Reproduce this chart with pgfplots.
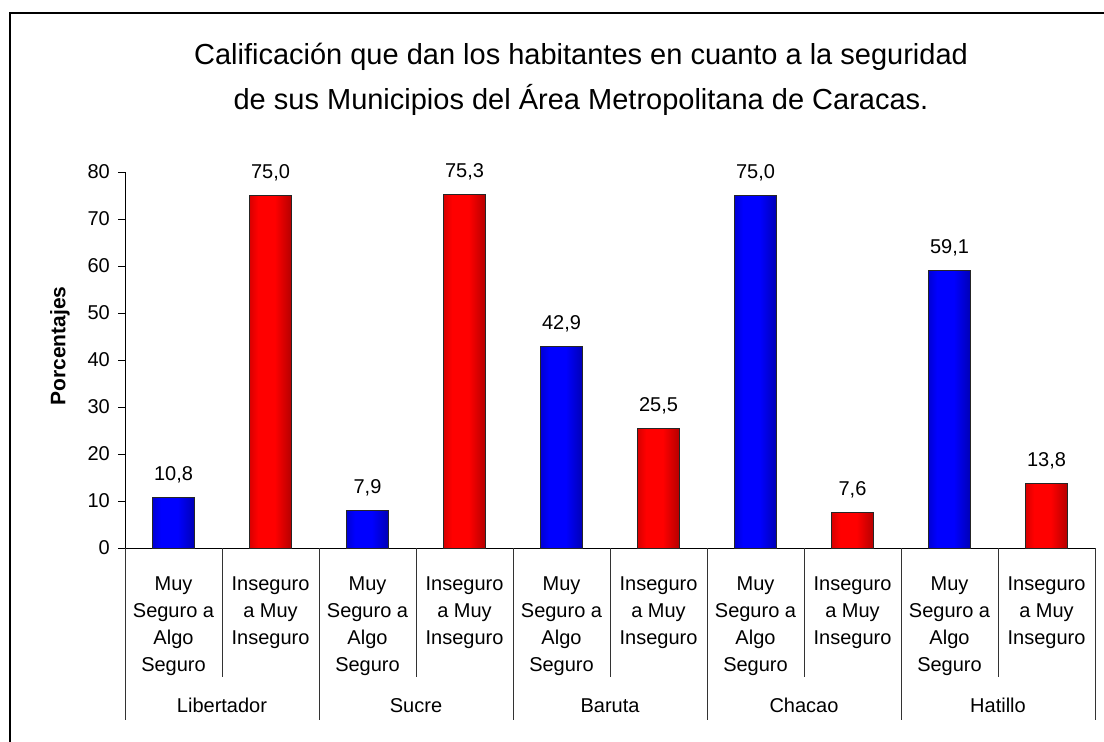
\documentclass[border=0pt]{standalone}
\usepackage{pgfplots}
\pgfplotsset{compat=1.18}
\usepackage{fontspec}
\setmainfont{Liberation Sans}
\definecolor{bL}{RGB}{0,0,110}
\definecolor{bM}{RGB}{0,0,255}
\definecolor{bR}{RGB}{0,0,90}
\definecolor{rL}{RGB}{120,0,0}
\definecolor{rM}{RGB}{255,0,0}
\definecolor{rR}{RGB}{90,0,0}
\pgfdeclarehorizontalshading{blueshade}{100bp}{color(0bp)=(bL); color(35bp)=(bM); color(55bp)=(bM); color(100bp)=(bR)}
\pgfdeclarehorizontalshading{redshade}{100bp}{color(0bp)=(rL); color(35bp)=(rM); color(55bp)=(rM); color(100bp)=(rR)}
\newcommand{\lbl}{\fontsize{20bp}{27bp}\selectfont}
\begin{document}
\begin{tikzpicture}
\path[use as bounding box] (0,0) rectangle (1104bp,742bp);
\draw[line width=2.5bp] (10bp,-5bp) -- (10bp,729bp) -- (1110bp,729bp);
\node[anchor=base, font=\fontsize{29bp}{34bp}\selectfont] at (581bp,677bp) {Calificación que dan los habitantes en cuanto a la seguridad};
\node[anchor=base, font=\fontsize{29bp}{34bp}\selectfont] at (581bp,632bp) {de sus Municipios del Área Metropolitana de Caracas.};
\node[rotate=90, font=\fontsize{21bp}{27bp}\selectfont\bfseries] at (60bp,396bp) {Porcentajes};
\begin{axis}[
  at={(125bp,194bp)}, anchor=south west,
  scale only axis, width=970bp, height=376bp,
  xmin=-0.5, xmax=9.5, ymin=0, ymax=80,
  axis x line*=bottom, axis y line*=left,
  axis line style={line width=0.8bp, -},
  clip=false,
  ybar, bar shift=0pt, bar width=0.43,
  ytick={0,10,...,80},
  tick align=outside,
  ytick style={line width=0.8bp, black},
  major tick length=7bp,
  xtick={0,...,9},
  xtick style={draw=none},
  xticklabels={{Muy\\Seguro a\\Algo\\Seguro},{Inseguro\\a Muy\\Inseguro},{Muy\\Seguro a\\Algo\\Seguro},{Inseguro\\a Muy\\Inseguro},{Muy\\Seguro a\\Algo\\Seguro},{Inseguro\\a Muy\\Inseguro},{Muy\\Seguro a\\Algo\\Seguro},{Inseguro\\a Muy\\Inseguro},{Muy\\Seguro a\\Algo\\Seguro},{Inseguro\\a Muy\\Inseguro}},
  xticklabel style={font=\lbl, align=center, anchor=north, inner sep=0pt, yshift=-22bp},
  yticklabel style={font=\lbl, inner sep=0pt, xshift=-8bp},
  /pgf/number format/assume math mode=true,
  nodes near coords,
  nodes near coords style={font=\lbl, anchor=base, yshift=17bp, black,
    /pgf/number format/.cd, fixed, fixed zerofill, precision=1, use comma, assume math mode=true},
  seg/.style={shading=blueshade, draw=black!85, line width=0.8bp},
  ins/.style={shading=redshade, draw=black!85, line width=0.8bp},
]
% Libertador
\addplot[seg] coordinates {(0,10.8)};
\addplot[ins] coordinates {(1,75.0)};
% Sucre
\addplot[seg] coordinates {(2,7.9)};
\addplot[ins] coordinates {(3,75.3)};
% Baruta
\addplot[seg] coordinates {(4,42.9)};
\addplot[ins] coordinates {(5,25.5)};
% Chacao
\addplot[seg] coordinates {(6,75.0)};
\addplot[ins] coordinates {(7,7.6)};
% Hatillo
\addplot[seg] coordinates {(8,59.1)};
\addplot[ins] coordinates {(9,13.8)};
\pgfplotsinvokeforeach{0.5,2.5,4.5,6.5,8.5}{\draw[black!80, line width=0.8bp] (axis cs:#1,0) -- ([yshift=-129bp]axis cs:#1,0);}
\pgfplotsinvokeforeach{-0.5,1.5,3.5,5.5,7.5,9.5}{\draw[black!80, line width=0.8bp] (axis cs:#1,0) -- ([yshift=-172bp]axis cs:#1,0);}
\node[anchor=base, font=\lbl] at (axis cs:0.5,0) [yshift=-164bp] {Libertador};
\node[anchor=base, font=\lbl] at (axis cs:2.5,0) [yshift=-164bp] {Sucre};
\node[anchor=base, font=\lbl] at (axis cs:4.5,0) [yshift=-164bp] {Baruta};
\node[anchor=base, font=\lbl] at (axis cs:6.5,0) [yshift=-164bp] {Chacao};
\node[anchor=base, font=\lbl] at (axis cs:8.5,0) [yshift=-164bp] {Hatillo};
\end{axis}
\end{tikzpicture}
\end{document}
